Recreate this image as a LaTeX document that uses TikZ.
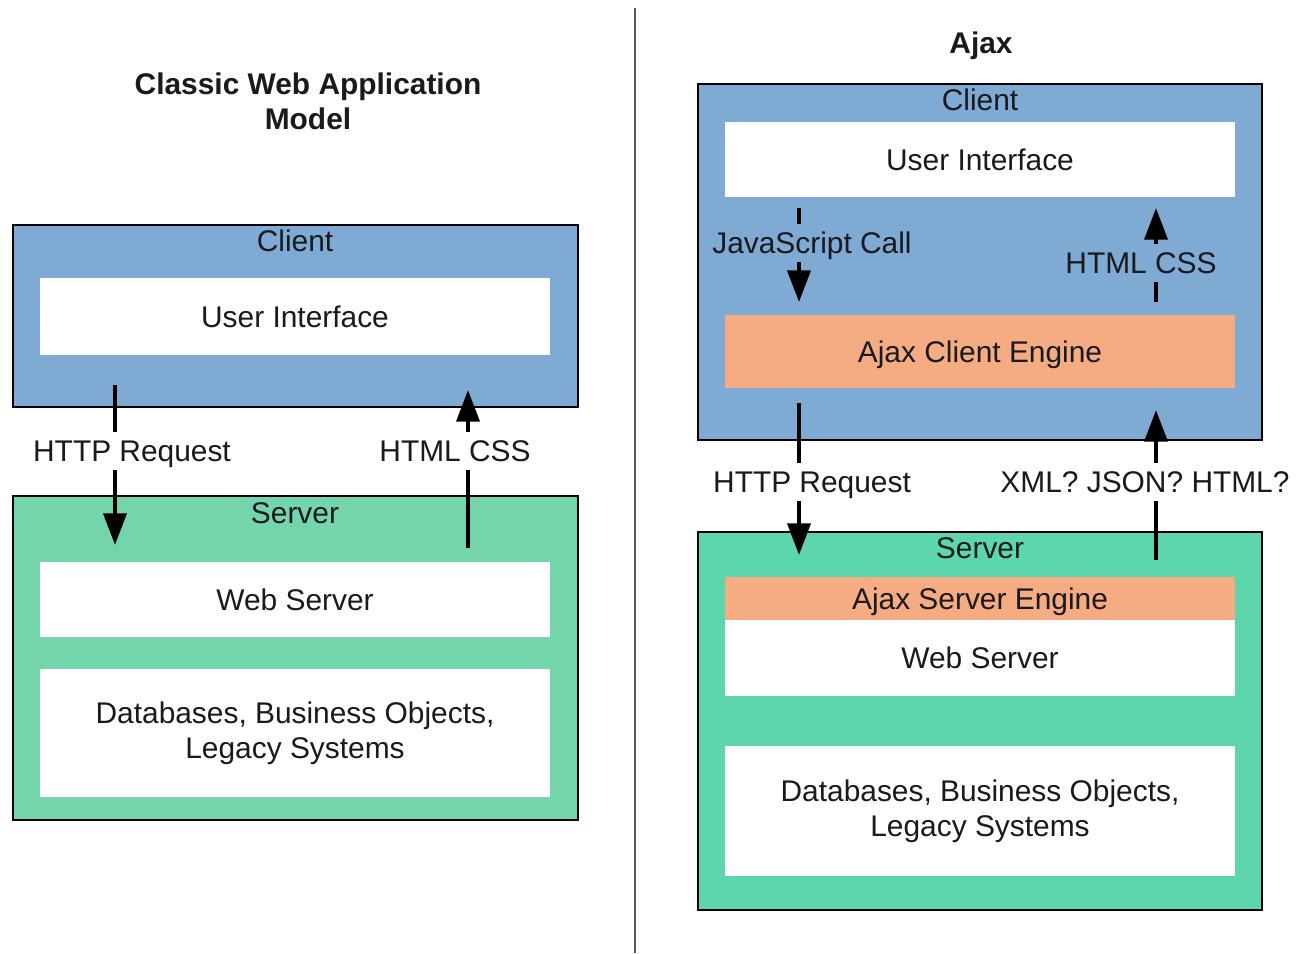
\documentclass[tikz,border=0pt]{standalone}
\usepackage{fontspec}
\setmainfont{Liberation Sans}
\usetikzlibrary{arrows.meta}
\definecolor{clientblue}{RGB}{126,170,212}
\definecolor{servergreen}{RGB}{116,212,171}
\definecolor{servergreenb}{RGB}{93,214,173}
\definecolor{engineorange}{RGB}{246,172,130}
\definecolor{inktext}{RGB}{25,25,30}

\begin{document}
\begin{tikzpicture}[x=0.01cm,y=-0.01cm,font=\fontsize{8.5}{10}\selectfont,text=inktext,
  every node/.style={text height=1.6ex,text depth=0.45ex},
  layer/.style={draw=black,line width=0.6pt,inner sep=0pt,minimum width=5.65cm},
  part/.style={fill=white,inner sep=0pt,minimum width=5.1cm,align=center},
  flow/.style={line width=1.2pt,-{Triangle[length=9pt,width=6.5pt]}},
  tag/.style={inner xsep=1.5pt,inner ysep=0pt}]
\useasboundingbox (0,0) rectangle (1297,953);
\draw[gray!70!black,line width=0.7pt] (635,8) -- (635,953);

\node[font=\fontsize{8.5}{10}\selectfont\bfseries,align=center,text height=,text depth=] (ltitle) at (308,101) {Classic Web Application\\Model};
\node[layer,fill=clientblue,minimum height=1.82cm] (lclient) at (295.5,316) {};
\node[part,minimum height=0.77cm] (lui) at (295,316.5) {User Interface};
\node (lclientlbl) at (295,241) {Client};
\node[layer,fill=servergreen,minimum height=3.24cm] (lserver) at (295.5,658) {};
\node (lserverlbl) at (295,513) {Server};
\node[part,minimum height=0.75cm] (lweb) at (295,599.5) {Web Server};
\node[part,minimum height=1.28cm,text height=,text depth=] (ldb) at (295,733) {Databases, Business Objects,\\Legacy Systems};

\coordinate (lreqa) at (115,385); \coordinate (lreqb) at (115,545);
\coordinate (lresa) at (468,548); \coordinate (lresb) at (468,390);
\draw[flow] (lreqa) -- (lreqb); \draw[flow] (lresa) -- (lresb);
\node[tag,fill=white] (lreq) at (132,451) {HTTP Request};
\node[tag,fill=white] (lres) at (455,451) {HTML CSS};

\node[font=\fontsize{8.5}{10}\selectfont\bfseries] (rtitle) at (981,43) {Ajax};
\node[layer,fill=clientblue,minimum width=5.64cm,minimum height=3.56cm] (rclient) at (980,262) {};
\node (rclientlbl) at (980,100) {Client};
\node[part,minimum height=0.75cm] (rui) at (980,159.5) {User Interface};
\node[part,fill=engineorange,minimum height=0.73cm] (rengine) at (980,351.5) {Ajax Client Engine};
\node[layer,fill=servergreenb,minimum width=5.64cm,minimum height=3.78cm] (rserver) at (980,721) {};
\node (rserverlbl) at (980,548) {Server};
\node[part,fill=engineorange,minimum height=0.43cm] (rsengine) at (980,598.5) {Ajax Server Engine};
\node[part,minimum height=0.76cm] (rweb) at (980,658) {Web Server};
\node[part,minimum height=1.30cm,text height=,text depth=] (rdb) at (980,811) {Databases, Business Objects,\\Legacy Systems};

\coordinate (jsa) at (799,208); \coordinate (jsb) at (799,302);
\coordinate (cssa) at (1156,302); \coordinate (cssb) at (1156,208);
\coordinate (rreqa) at (799,403); \coordinate (rreqb) at (799,555);
\coordinate (rresa) at (1156,560); \coordinate (rresb) at (1156,410);
\draw[flow] (jsa) -- (jsb); \draw[flow] (cssa) -- (cssb);
\draw[flow] (rreqa) -- (rreqb); \draw[flow] (rresa) -- (rresb);
\node[tag,fill=clientblue] (jscall) at (812,243) {JavaScript Call};
\node[tag,fill=clientblue] (rcss) at (1141,263) {HTML CSS};
\node[tag,fill=white] (rreq) at (812,482) {HTTP Request};
\node[tag,fill=white] (rres) at (1145,482) {XML? JSON? HTML?};
\end{tikzpicture}
\end{document}
